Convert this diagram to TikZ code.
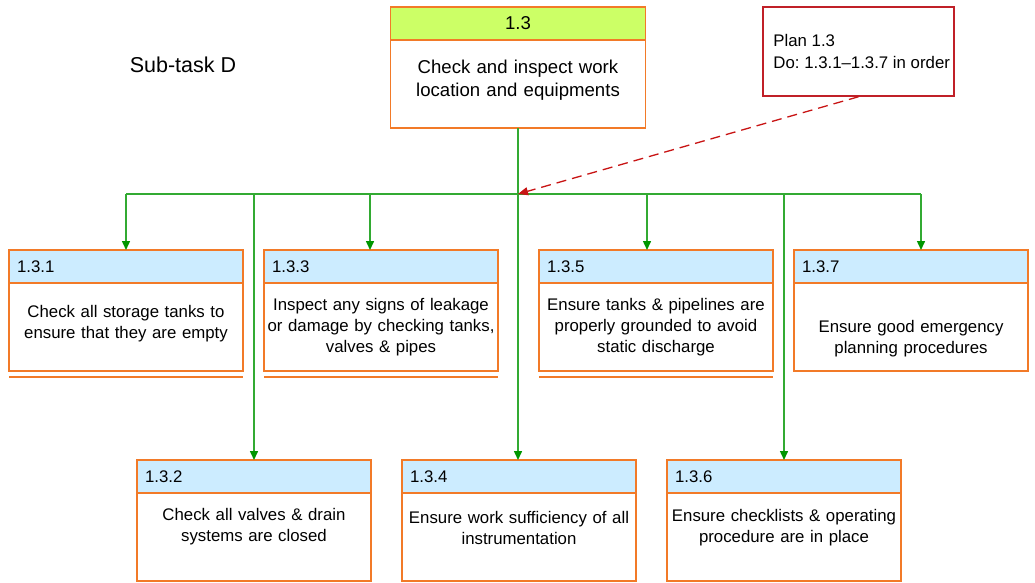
\documentclass[tikz,border=0pt]{standalone}
\usepackage{fontspec}
\setmainfont{Liberation Sans}
\usetikzlibrary{arrows.meta,positioning}

\definecolor{boxorange}{RGB}{242,122,40}
\definecolor{hdrblue}{RGB}{204,236,255}
\definecolor{hdrlime}{RGB}{204,255,102}
\definecolor{linkgreen}{RGB}{50,170,50}
\definecolor{tipgreen}{RGB}{0,150,0}
\definecolor{planred}{RGB}{192,32,40}
\definecolor{dashred}{RGB}{200,20,20}

\tikzset{
  hdr/.style={draw=boxorange, line width=1.5pt, fill=hdrblue, anchor=north west,
    outer sep=0pt, minimum width=234pt, minimum height=33pt, text width=218pt,
    inner xsep=8pt, align=left, font=\fontsize{16.8}{20}\selectfont},
  body/.style={draw=boxorange, line width=1.5pt, fill=white, anchor=north,
    outer sep=0pt, minimum width=234pt, minimum height=88pt},
  desc/.style={text width=240pt, align=center, inner sep=0pt,
    font=\fontsize{16.8}{21}\selectfont},
  planbox/.style={draw=planred, line width=1.5pt, minimum width=191pt, minimum height=89pt},
  link/.style={draw=linkgreen, line width=1.5pt},
  flow/.style={link, -{Triangle[length=9pt,width=8pt,color=tipgreen]}},
  planlink/.style={draw=dashred, line width=1.3pt, dash pattern=on 10pt off 6pt,
    -{Triangle[length=10pt,width=8pt,color=dashred]}},
}

\begin{document}
\frenchspacing
\begin{tikzpicture}[x=1pt, y=-1pt]
    \useasboundingbox (0,0) rectangle (1035,583);

    % title
    \node[font=\fontsize{21.5}{26}\selectfont] (title) at (183,65) {Sub-task D};

    % top task
    \node[hdr, fill=hdrlime, anchor=north, minimum width=255pt, text width=239pt,
      align=center, font=\fontsize{18.6}{22}\selectfont] (toph) at (518,7) {1.3};
    \node[body, minimum width=255pt] (topb) at (toph.south) {};
    \node[desc, text width=250pt, font=\fontsize{18.6}{22.7}\selectfont] (topd)
      at ([yshift=3.5pt]topb.center) {Check and inspect work\\location and equipments};

    % plan
    \node[planbox] (plan) at (858.5,51.5) {};
    \node[anchor=west, align=left, inner sep=0pt, font=\fontsize{16.8}{22}\selectfont]
      (plantxt) at ([xshift=11pt]plan.west) {Plan 1.3\\Do: 1.3.1–1.3.7 in order};

    % sub-tasks
    \foreach \id/\x/\y/\dy/\txt in {
        1/9/250/3.5/{Check all storage tanks to\\ensure that they are empty},
        3/264/250/0/{Inspect any signs of leakage\\or damage by checking tanks,\\valves \& pipes},
        5/539/250/0/{Ensure tanks \& pipelines are\\properly grounded to avoid\\static discharge},
        7/794/250/-11.5/{Ensure good emergency\\planning procedures},
        2/137/460/10/{Check all valves \& drain\\systems are closed},
        4/402/460/9/{Ensure work sufficiency of all\\instrumentation},
        6/667/460/9/{Ensure checklists \& operating\\procedure are in place}} {
        \node[hdr] (h\id) at (\x,\y) {1.3.\id};
        \node[body] (b\id) at (h\id.south) {};
        \node[desc] (d\id) at ([yshift=\dy pt]b\id.center) {\txt};
    }

    % double lines under the first row
    \foreach \id in {1,3,5} {
        \draw[draw=boxorange, line width=1.5pt]
          ([yshift=-6pt]b\id.south west) -- ([yshift=-6pt]b\id.south east);
    }

    % connectors
    \coordinate (trunk) at (518,194);
    \coordinate (busL) at (126,194);
    \coordinate (busR) at (921,194);
    \coordinate (j3) at (370,194);
    \coordinate (j5) at (647,194);
    \draw[link] (toph.north |- topb.south) -- (trunk);
    \draw[link] (busL) -- (busR);
    \draw[flow] (busL) -- (h1.north);
    \draw[flow] (j3) -- (j3 |- h3.north);
    \draw[flow] (j5) -- (j5 |- h5.north);
    \draw[flow] (busR) -- (busR |- h7.north);
    \draw[flow] (h2.north |- trunk) -- (h2.north);
    \draw[flow] (trunk) -- (trunk |- h4.north);
    \draw[flow] (h6.north |- trunk) -- (h6.north);

    % plan link
    \draw[planlink] (plan.south) -- (trunk);
\end{tikzpicture}
\end{document}
